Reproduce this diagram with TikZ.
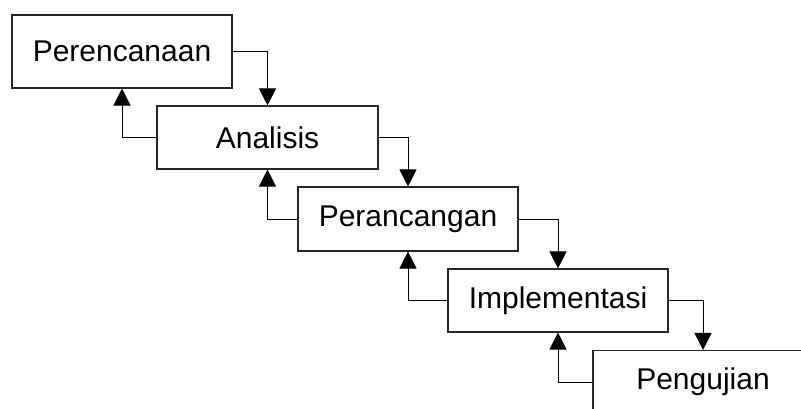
\documentclass[tikz,border=0pt]{standalone}
\usepackage{fontspec}
\setmainfont{Liberation Sans}
\usetikzlibrary{arrows.meta}
\begin{document}
\begin{tikzpicture}[x=1pt,y=-1pt,
  phase/.style={draw=black!85, line width=1.1pt, fill=white, minimum width=220pt, minimum height=63pt, inner sep=0pt, font=\fontsize{30}{36}\selectfont},
  link/.style={draw=black, line width=1pt, -{Triangle[length=17pt,width=17pt]}}]
\useasboundingbox (0,0) rectangle (801,408);
\clip (0,0) rectangle (801,408);
\fill[white] (0,0) rectangle (801,408);
\node[phase, minimum height=73pt] (b1) at (122,51.5) {Perencanaan};
\node[phase, minimum width=221pt] (b2) at (267.5,137.5) {Analisis};
\node[phase, minimum height=64pt] (b3) at (408,219) {Perancangan};
\node[phase] (b4) at (558,300.5) {Implementasi};
\node[phase] (b5) at (703,382) {Pengujian};
\draw[link] (b1.east) -| (b2.north);
\draw[link] (b2.east) -| (b3.north);
\draw[link] (b3.east) -| (b4.north);
\draw[link] (b4.east) -| (b5.north);
\draw[link] (b2.west) -| (b1.south);
\draw[link] (b3.west) -| (b2.south);
\draw[link] (b4.west) -| (b3.south);
\draw[link] (b5.west) -| (b4.south);
\end{tikzpicture}
\end{document}
